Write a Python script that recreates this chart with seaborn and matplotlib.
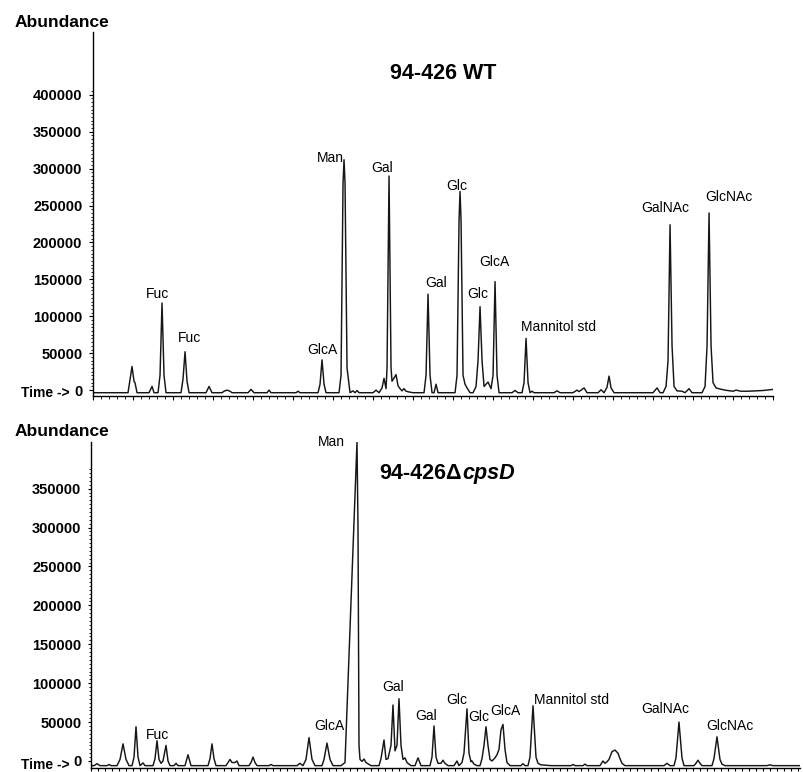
import matplotlib
matplotlib.use("Agg")
import matplotlib.pyplot as plt
import seaborn as sns
import pandas as pd
from matplotlib.ticker import FixedLocator

# ---------------- data (scan index vs. abundance) -------------
top_points = [
    (0, -3500), (35, -3500), (39, 32000), (41, 12000), (42, 10000), (44, -3500),
    (56, -3500), (59, 5000), (61, -3500),
    (65, -3500), (67, 20000), (69, 118000), (71, 20000), (73, -3500),
    (88, -3500), (90, 15000), (92, 52000), (94, 12000), (96, -3500),
    (113, -3500), (116, 5000), (119, -3500),
    (129, -3500), (131, -1500), (134, 0), (137, -1500), (139, -3500),
    (155, -3500), (158, 1000), (161, -3500),
    (174, -3500), (176, 0), (178, -3500),
    (203, -3500), (205, -1500), (207, -3500),
    (225, -3500), (227, 8000), (229, 41000), (231, 8000), (233, -3500),
    (246, -3500), (248, 20000), (250, 280000), (251, 312000), (252, 280000), (254, 30000), (257, -3500),
    (260, -1000), (262, -3500), (264, -500), (266, -3500),
    (280, -3500), (283, 0), (286, -3500),
    (289, 3000), (291, 16000), (293, 2000), (294, 30000), (296, 290000), (298, 30000), (299, 12000),
    (303, 21000), (305, 6000), (307, 2000), (309, -1000), (311, 2000), (313, -1500), (316, -2500), (320, -3500),
    (331, -3500), (333, 20000), (335, 130000), (337, 20000), (339, -3500),
    (341, -3500), (343, 8000), (345, -3500),
    (362, -3500), (364, 20000), (366, 230000), (367, 269000), (368, 230000), (370, 20000), (372, 8000),
    (374, 3000), (377, -3500),
    (380, -3500), (383, 5000), (385, 40000), (387, 113000), (389, 40000), (391, 5000), (393, 8000),
    (395, 11000), (398, 2000), (400, 20000), (402, 147000), (404, 20000), (406, -3500),
    (419, -3500), (422, -500), (425, -3500),
    (429, -3500), (431, 10000), (433, 70000), (435, 10000), (437, -3500), (439, -1500), (441, -3500),
    (461, -3500), (464, -1000), (467, -3500),
    (480, -3500), (484, 0), (486, -2000), (491, 3000), (494, -3500),
    (505, -3500), (508, 500), (511, -3500), (514, 4000), (516, 19000), (518, 3000), (521, -3500),
    (560, -3500), (564, 3000), (567, -3500),
    (570, -3500), (573, 5000), (575, 40000), (577, 224000), (579, 60000), (581, 5000), (584, -1000), (589, -1500),
    (592, -3500), (596, 2000), (599, -3500),
    (609, -3500), (612, 5000), (614, 60000), (616, 240000), (618, 60000), (620, 10000), (623, 3000),
    (627, 1500), (632, 0), (640, -1500), (643, 0), (648, -1500), (655, -1500), (670, -500), (680, 1000),
]

bottom_points = [
    (0, -6000), (3, -6000), (6, -3500), (9, -6000), (16, -6000), (18, -4500), (20, -6000),
    (26, -6000), (29, 2000), (32, 22000), (35, 2000), (38, -6000),
    (41, -6000), (43, 5000), (45, 44000), (47, 5000), (49, -6000), (52, -2500), (54, -6000),
    (62, -6000), (64, 3000), (66, 26000), (68, 2000), (70, -3000), (72, 0), (75, 20000), (77, 0), (79, -6000),
    (83, -6000), (85, -3000), (87, -6000),
    (94, -6000), (97, 8000), (100, -6000),
    (117, -6000), (119, 3000), (121, 22000), (123, 3000), (125, -6000),
    (135, -6000), (137, -2000), (139, 2000), (141, -2000), (144, -2000), (146, 0), (148, -6000),
    (158, -6000), (160, -2000), (162, 5000), (164, -2000), (166, -6000),
    (178, -6000), (180, -4500), (182, -6000),
    (206, -6000), (209, -3000), (212, -6000), (215, 2000), (218, 30000), (221, 2000), (224, -6000),
    (231, -6000), (233, 2000), (236, 23000), (239, 2000), (242, -6000),
    (250, -6000), (254, -2000), (266, 410000), (267, 300000), (268, 20000), (269, 2000), (271, -500),
    (273, 2500), (275, -2000), (280, -6000),
    (288, -6000), (290, 3000), (293, 27000), (295, 2000), (297, 3000), (300, 20000), (302, 72000),
    (304, 13000), (306, 20000), (308, 80000), (310, 20000), (312, 2000), (314, 4000), (316, -2000), (320, -6000),
    (324, -6000), (327, 4000), (330, -6000),
    (339, -6000), (341, 5000), (343, 45000), (345, 5000), (347, -3000), (350, -3000), (352, 1000),
    (354, -3000), (357, -6000),
    (363, -6000), (366, 0), (368, -6000), (371, -2000), (373, 10000), (376, 67000), (378, 10000),
    (380, -1000), (381, 0), (383, -4000), (386, -6000),
    (389, -6000), (391, 3000), (393, 20000), (395, 44000), (397, 20000), (399, 2000), (401, 0),
    (404, 4000), (406, 8000), (408, 15000), (410, 40000), (412, 47000), (414, 15000), (416, -2000), (419, -6000),
    (430, -6000), (432, -3500), (434, -6000),
    (437, -6000), (439, 5000), (442, 71000), (445, 5000), (447, -3000), (450, -5000), (460, -6000),
    (480, -6000), (482, -4500), (484, -6000), (492, -6000), (494, -4000), (496, -6000),
    (509, -6000), (512, 0), (514, -3000), (516, -1000), (518, 2000), (521, 12000), (524, 14000),
    (527, 10000), (529, 3000), (531, -3000), (534, -6000),
    (573, -6000), (576, -3000), (579, -6000),
    (583, -6000), (585, 4000), (588, 50000), (591, 4000), (593, -6000),
    (603, -6000), (605, -3000), (607, 1000), (609, -3000), (611, -6000),
    (621, -6000), (623, 3000), (626, 31000), (629, 2000), (631, -4000), (634, -6000),
    (676, -6000), (679, -5000), (682, -6000), (709, -6000),
]

top_labels = ["Fuc", "Fuc", "GlcA", "Man", "Gal", "Gal", "Glc", "Glc", "GlcA",
              "Mannitol std", "GalNAc", "GlcNAc"]
top_label_scan = [64, 96, 229, 237, 289, 343, 364, 385, 401, 465, 572, 636]
top_label_abund = [130000, 70000, 55000, 315000, 301000, 145000, 277000, 130000, 173000,
                   85000, 246000, 261000]

bottom_labels = ["Fuc", "GlcA", "Man", "Gal", "Gal", "Glc", "Glc", "GlcA",
                 "Mannitol std", "GalNAc", "GlcNAc"]
bottom_label_scan = [66, 238, 240, 302, 335, 366, 388, 414, 481, 574, 639]
bottom_label_abund = [33000, 45000, 410000, 95000, 58000, 79000, 56000, 64000, 79000, 67000, 45000]

top_yticks = [0, 50000, 100000, 150000, 200000, 250000, 300000, 350000, 400000]
bottom_yticks = [0, 50000, 100000, 150000, 200000, 250000, 300000, 350000]

# ---------------- figure ----------------
sns.set_theme(style="white")
plt.rcParams['font.family'] = ['Liberation Sans', 'DejaVu Sans']
for key in ["text.color", "axes.labelcolor", "xtick.color", "ytick.color"]:
    plt.rcParams[key] = "black"

fig = plt.figure(figsize=(8.04, 7.72), dpi=100)
ax1 = fig.add_axes([0.1157, 0.4870, 0.8458, 0.4715])
ax2 = fig.add_axes([0.1132, 0.0052, 0.8818, 0.4223])

top_df = pd.DataFrame(top_points, columns=["scan", "abundance"])
bot_df = pd.DataFrame(bottom_points, columns=["scan", "abundance"])

sns.lineplot(data=top_df, x="scan", y="abundance", ax=ax1, color="#161616",
             linewidth=1.05, estimator=None, sort=False)
sns.lineplot(data=bot_df, x="scan", y="abundance", ax=ax2, color="#161616",
             linewidth=1.05, estimator=None, sort=False)


def style(ax, xmax, ylo, yhi, yticks, yminor_max, xmajor, xminor, majlen):
    ax.set_xlim(0, xmax)
    ax.set_ylim(ylo, yhi)
    ax.set_facecolor("none")
    ax.grid(False)
    for s in ["top", "right"]:
        ax.spines[s].set_visible(False)
    for s in ["left", "bottom"]:
        ax.spines[s].set_color("black")
        ax.spines[s].set_linewidth(1.0)
    ax.set_yticks(yticks)
    ax.set_yticklabels([str(v) for v in yticks], fontweight="bold", fontsize=10.5)
    ax.yaxis.set_minor_locator(FixedLocator(list(range(0, yminor_max + 1, 5000))))
    ax.set_xticks(xmajor)
    ax.set_xticklabels([])
    ax.xaxis.set_minor_locator(FixedLocator(xminor))
    ax.tick_params(axis="both", which="major", direction="out", length=majlen, width=0.8,
                   color="black", bottom=True, left=True, pad=4.5, labelcolor="black")
    ax.tick_params(axis="both", which="minor", direction="out", length=1.8, width=0.6,
                   color="black", bottom=True, left=True)
    ax.set_xlabel("")
    ax.set_ylabel("")


style(ax1, 680, -8000, 485000, top_yticks, 405000,
      list(range(0, 681, 40)), list(range(0, 681, 8)), 3.2)
style(ax2, 709, -9000, 410000, bottom_yticks, 375000,
      list(range(0, 710, 7)), [], 2.4)

for t, x, y in zip(top_labels, top_label_scan, top_label_abund):
    ax1.text(x, y, t, fontsize=10, ha="center", va="center", color="black")
for t, x, y in zip(bottom_labels, bottom_label_scan, bottom_label_abund):
    ax2.text(x, y, t, fontsize=10, ha="center", va="center", color="black", clip_on=False)

fig.text(0.0765, 0.9715, "Abundance", fontsize=12.5, fontweight="bold", ha="center", va="center")
fig.text(0.0765, 0.4417, "Abundance", fontsize=12.5, fontweight="bold", ha="center", va="center")
fig.text(45 / 804, 1 - 393 / 772, "Time ->", fontsize=10, fontweight="bold", ha="center", va="center")
fig.text(45 / 804, 1 - 765 / 772, "Time ->", fontsize=10, fontweight="bold", ha="center", va="center")

fig.text(0.551, 0.9054, "94-426 WT", fontsize=15.5, fontweight="bold", ha="center", va="center")
fig.text(0.5746, 0.3873, "94-426Δ", fontsize=15.5, fontweight="bold", ha="right", va="center")
fig.text(0.5746, 0.3873, "cpsD", fontsize=15.5, fontweight="bold", fontstyle="italic",
         ha="left", va="center")

fig.savefig("out.png", dpi=100, facecolor="white")
